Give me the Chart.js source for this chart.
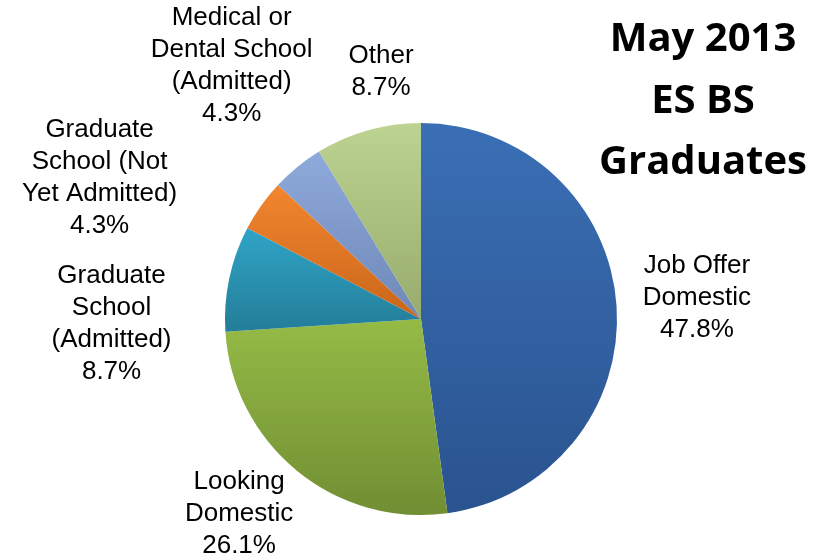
<!DOCTYPE html>
<html>
<head>
<meta charset="utf-8">
<script src="https://cdn.jsdelivr.net/npm/chart.js@4.4.0/dist/chart.umd.min.js"></script>
<style>
  html, body { margin: 0; padding: 0; background: #ffffff; }
  #wrap { width: 822px; height: 556px; position: relative; }
</style>
</head>
<body>
<div id="wrap"><canvas id="chart"></canvas></div>
<script>
//Data
const categories = [
    ['Job Offer', 'Domestic'],
    ['Looking', 'Domestic'],
    ['Graduate', 'School', '(Admitted)'],
    ['Graduate', 'School (Not', 'Yet Admitted)'],
    ['Medical or', 'Dental School', '(Admitted)'],
    ['Other']
];
const shares = [47.8, 26.1, 8.7, 4.3, 4.3, 8.7];
const titleLines = ['May 2013', 'ES BS', 'Graduates'];

//Slice colours, top tone and bottom tone of the gradient
const topColors = ['#3a6fb5', '#95bb46', '#30a4c7', '#f3862f', '#8eaadb', '#bdd391'];
const bottomColors = ['#2a538f', '#718e33', '#237d98', '#c9661a', '#6e87b7', '#97ac6c'];

//Label placement: angle nudge (deg) and distance from centre (x radius)
const labelNudge = [-0.5, 3.8, -12.8, -11.7, 2.3, 6.5];
const labelDist = [1.412, 1.359, 1.579, 1.791, 1.613, 1.279];

const total = shares.reduce((a, b) => a + b, 0);

//vertical gradient over each slice's own bounding box
function sliceGradient(context) {
    const chart = context.chart;
    const i = context.dataIndex;
    const area = chart.chartArea;
    if (!area) return topColors[i];
    const cx = (area.left + area.right) / 2;
    const cy = (area.top + area.bottom) / 2;
    const r = Math.min(area.right - area.left, area.bottom - area.top) / 2;
    let before = 0;
    for (let k = 0; k < i; k++) before += shares[k];
    const a0 = -Math.PI / 2 + before / total * 2 * Math.PI;
    const a1 = a0 + shares[i] / total * 2 * Math.PI;
    let ys = [cy, cy + r * Math.sin(a0), cy + r * Math.sin(a1)];
    [Math.PI / 2, 3 * Math.PI / 2, -Math.PI / 2].forEach(a => {
        if (a > a0 && a < a1) ys.push(cy + r * Math.sin(a));
    });
    const g = chart.ctx.createLinearGradient(0, Math.min(...ys), 0, Math.max(...ys));
    g.addColorStop(0, topColors[i]);
    g.addColorStop(1, bottomColors[i]);
    return g;
}

//Draws the outside labels and the title block
const labelPlugin = {
    id: 'labelPlugin',
    afterDatasetsDraw(chart) {
        const ctx = chart.ctx;
        const meta = chart.getDatasetMeta(0);
        ctx.save();
        ctx.fillStyle = '#000000';
        ctx.textAlign = 'center';
        ctx.textBaseline = 'middle';
        ctx.font = '26px "Liberation Sans", Arial, sans-serif';
        meta.data.forEach((arc, i) => {
            const mid = (arc.startAngle + arc.endAngle) / 2 + labelNudge[i] * Math.PI / 180;
            const d = arc.outerRadius * labelDist[i];
            const x = arc.x + Math.cos(mid) * d;
            const y = arc.y + Math.sin(mid) * d;
            const lines = categories[i].concat([shares[i].toFixed(1) + '%']);
            const lh = 32;
            const y0 = y - (lines.length - 1) * lh / 2;
            lines.forEach((t, j) => ctx.fillText(t, x, y0 + j * lh));
        });

        ctx.font = 'bold 40px "Open Sans", sans-serif';
        ctx.textBaseline = 'alphabetic';
        titleLines.forEach((t, j) => ctx.fillText(t, 703, 51 + j * 61.5));
        ctx.restore();
    }
};

const canvas = document.getElementById('chart').getContext('2d');

const myChart = new Chart(canvas, {
    type: 'pie',
    data: {
        labels: categories.map(c => c.join(' ')),
        datasets: [{
            data: shares,
            backgroundColor: sliceGradient,
            borderWidth: 0
        }]
    },
    options: {
        responsive: true,
        maintainAspectRatio: false,
        animation: false,
        layout: {
            padding: { top: 123, bottom: 41, left: 225, right: 205 }
        },
        plugins: {
            legend: { display: false },
            tooltip: { enabled: false }
        }
    },
    plugins: [labelPlugin]
});
</script>
</body>
</html>
